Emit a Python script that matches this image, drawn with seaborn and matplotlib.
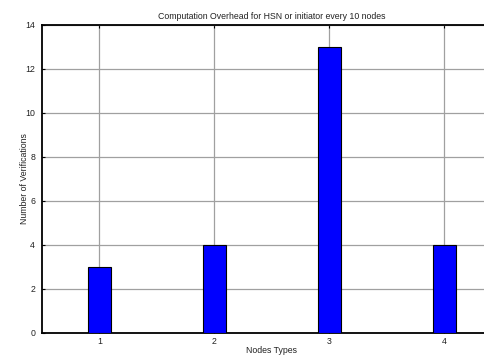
import matplotlib
matplotlib.use("Agg")
import matplotlib.pyplot as plt
import seaborn as sns
import pandas as pd

# Verification counts per node type
node_types = [1, 2, 3, 4]
verifications = [3, 4, 13, 4]
y_ticks = [0, 2, 4, 6, 8, 10, 12, 14]

sns.set_theme(style="white")
plt.rcParams["font.family"] = ["Liberation Sans", "DejaVu Sans"]

df = pd.DataFrame({"node": node_types, "count": verifications})

fig = plt.figure(figsize=(4.85, 3.58), dpi=100)
ax = fig.add_axes([42 / 485, 25 / 358, 460 / 485, 308 / 358])

sns.barplot(data=df, x="node", y="count", native_scale=True, width=0.2,
            color="#0000ff", saturation=1, edgecolor="black", linewidth=0.8,
            zorder=3, ax=ax)

ax.set_xlim(0.5, 4.5)
ax.set_ylim(0, 14)
ax.set_xticks(node_types)
ax.set_yticks(y_ticks)
ax.set_xticklabels([str(v) for v in node_types])
ax.grid(True, color="#a0a0a0", linewidth=0.9, zorder=0)
ax.set_axisbelow(True)

for side in ("left", "top", "bottom"):
    ax.spines[side].set_color("black")
    ax.spines[side].set_linewidth(1.3)
ax.spines["right"].set_visible(False)

ax.tick_params(axis="both", direction="in", length=2.5, width=0.8, color="black",
               labelsize=6.3, labelcolor="#222222")
ax.tick_params(axis="x", top=True, bottom=True, pad=3)
ax.tick_params(axis="y", left=True, pad=5)

ax.set_title("Computation Overhead for HSN or initiator every 10 nodes",
             fontsize=6.3, color="#222222", pad=4)
ax.set_xlabel("Nodes Types", fontsize=6.3, color="#222222", labelpad=0)
ax.set_ylabel("Number of Verifications", fontsize=6.3, color="#222222", labelpad=-3)

fig.savefig("out.png", dpi=100)
